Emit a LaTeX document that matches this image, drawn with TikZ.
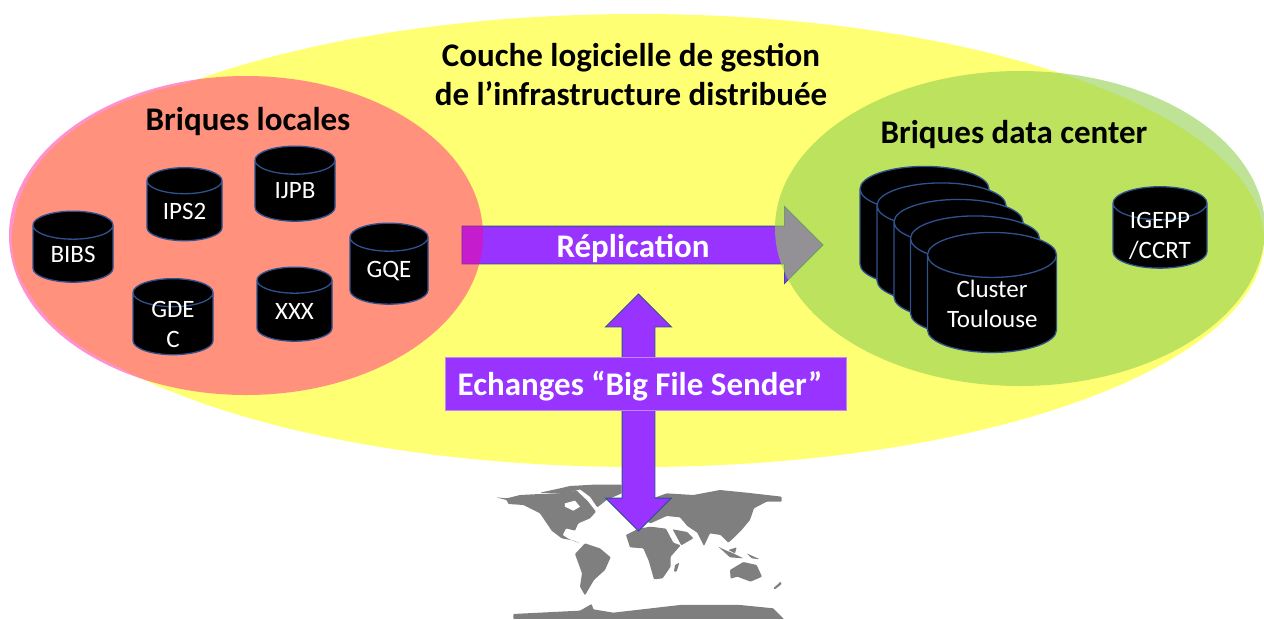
\documentclass[tikz,border=0pt]{standalone}
\usepackage{fontspec}
\setmainfont{Carlito}
\usetikzlibrary{shapes.geometric, shapes.arrows}
\definecolor{infrayellow}{HTML}{FFFF73}
\definecolor{localpink}{HTML}{FF008C}
\definecolor{dcgreen}{HTML}{92D050}
\definecolor{flowpurple}{HTML}{9933FF}
\definecolor{edgeblue}{HTML}{2F528F}
\definecolor{mapgray}{HTML}{7F7F7F}

\begin{document}
\begin{tikzpicture}[
   x=1pt, y=-1pt,
   zone/.style={
     ellipse,
     inner sep=0pt,
     draw=none,
    },
   db/.style={
     cylinder,
     shape border rotate=90,
     aspect=.5,
     cylinder uses custom fill,
     cylinder body fill=black,
     cylinder end fill=black,
     draw=edgeblue,
     line width=1.3pt,
     inner sep=0pt,
     text=white,
     align=center,
     font=\fontsize{25}{30}\selectfont,
    },
   title/.style={
     align=center,
     font=\fontsize{33}{39}\selectfont\bfseries,
    },
   flow/.style={
     fill=flowpurple,
     draw=edgeblue,
     line width=.9pt,
     inner sep=0pt,
    },
   flowtext/.style={
     text=white,
     font=\fontsize{33}{36}\selectfont\bfseries,
    },
   land/.style={
     fill=mapgray,
     draw=none,
     rounded corners=.8pt,
    },
  ]
\useasboundingbox (0,0) rectangle (1264,619);

% world map
\begin{scope}[shift={(480pt,-470pt)}, x=.3333pt, y=-.3333pt]
\clip (-480,-100) rectangle (960,447);
\fill[land] (48,82) -- (80,85) -- (120,75) -- (180,72) -- (250,70) -- (290,62) -- (322,92) -- (348,125) -- (330,145) -- (295,160) -- (285,182) -- (258,175) -- (248,195) -- (268,208) -- (300,220) -- (282,212) -- (245,205) -- (215,182) -- (180,130) -- (130,105) -- (85,102) -- (80,90) -- cycle;
\fill[white] (255,100) -- (285,92) -- (300,110) -- (280,122) -- (255,110) -- cycle;
\fill[land] (180,68) -- (240,55) -- (270,48) -- (340,44) -- (425,44) -- (425,70) -- (380,90) -- (352,112) -- (330,80) -- (300,58) -- (255,72) -- cycle;
\fill[land] (505,90) -- (560,70) -- (640,75) -- (720,60) -- (800,68) -- (905,80) -- (905,95) -- (860,95) -- (822,115) -- (810,150) -- (785,180) -- (760,205) -- (745,218) -- (722,195) -- (690,190) -- (672,228) -- (652,188) -- (622,168) -- (600,142) -- (560,138) -- (512,160) -- (492,150) -- (528,112) -- cycle;
\fill[land] (438,195) -- (475,176) -- (512,170) -- (558,176) -- (580,218) -- (602,226) -- (572,260) -- (572,290) -- (548,325) -- (522,328) -- (506,272) -- (490,235) -- (450,232) -- cycle;
\fill[land] (578,178) -- (622,186) -- (640,205) -- (604,226) -- cycle;
\fill[land] (285,252) -- (315,220) -- (360,235) -- (392,262) -- (375,300) -- (342,330) -- (315,376) -- (300,350) -- (306,310) -- cycle;
\fill[land] (750,300) -- (790,276) -- (830,285) -- (846,320) -- (812,335) -- (772,320) -- (752,326) -- cycle;
\fill[land] (585,285) -- (598,278) -- (590,305) -- (582,305) -- cycle;
\fill[land] (880,355) -- (902,335) -- (905,342) -- (885,358) -- cycle;
\fill[land] (715,230) -- (750,262) -- (790,265) -- (760,250) -- (735,240) -- cycle;
\fill[land] (745,240) -- (770,232) -- (765,250) -- cycle;
\fill[land] (800,250) -- (840,268) -- (815,265) -- cycle;
\fill[land] (100,432) -- (300,422) -- (335,402) -- (340,418) -- (400,428) -- (600,405) -- (780,405) -- (880,415) -- (912,447) -- (100,447) -- cycle;
\end{scope}

\node[zone, fill=infrayellow, minimum width=1252, minimum height=453] (infra) at (638,240.5) {};
\node[zone, fill=infrayellow, minimum width=470, minimum height=315] (localunder) at (248,235.5) {};

\node[single arrow, flow, text height=37pt, text depth=0pt, minimum width=76, minimum height=361,
  single arrow head extend=19.5, single arrow tip angle=90, single arrow head indent=0pt] (replication) at (633,245) {};

\node[zone, fill=localpink, fill opacity=.43, minimum width=474, minimum height=319] (local) at (246,235.5) {};
\node[zone, fill=dcgreen, fill opacity=.6, minimum width=490, minimum height=315] (datacenter) at (1020,228.5) {};

\node[double arrow, flow, rotate=90, text height=32pt, text depth=0pt, minimum width=65, minimum height=237,
  double arrow head extend=16.5, double arrow tip angle=90, double arrow head indent=0pt] (bigfile) at (638.5,412.5) {};
\node[fill=flowpurple, draw=flowpurple!60!white, line width=.5pt, minimum width=401, minimum height=53, inner sep=0pt] (sender) at (645.5,383.5) {};

\node[title] (infratitle) at (631,75) {Couche logicielle de gestion\\de l’infrastructure distribuée};
\node[title] (localtitle) at (248,121.5) {Briques locales};
\node[title] (dctitle) at (1014,135) {Briques data center};
\node[flowtext] (replabel) at (633,248) {Réplication};
\node[flowtext] (senderlabel) at (640,386) {Echanges “Big File Sender”};

\node[db, text width=56, minimum width=80, minimum height=71] (bibs) at (73,254) {BIBS};
\node[db, text width=52, minimum width=75, minimum height=73] (ips) at (184.5,211) {IPS2};
\node[db, text width=56, minimum width=80, minimum height=75] (ijpb) at (295,191) {IJPB};
\node[db, text width=56, minimum width=78, minimum height=81] (gqe) at (389,271) {GQE};
\node[db, text width=56, inner ysep=-6.5pt, minimum width=80, minimum height=75] (gdec) at (173,324) {GDE\\C};
\node[db, text width=52, minimum width=75, minimum height=74] (xxx) at (294.5,311) {XXX};

\node[db, text width=90, minimum width=129, minimum height=120] (clusterA) at (924.5,238) {};
\node[db, text width=90, minimum width=129, minimum height=120] (clusterB) at (941.5,254.5) {};
\node[db, text width=90, minimum width=129, minimum height=120] (clusterC) at (958.5,271) {};
\node[db, text width=90, minimum width=129, minimum height=120] (clusterD) at (975,287.5) {};
\node[db, text width=90, minimum width=129, minimum height=120] (clusterE) at (992,304) {Cluster\\Toulouse};
\node[db, text width=66, inner ysep=-8pt, minimum width=94, minimum height=78] (igepp) at (1160,236) {IGEPP\\/CCRT};
\end{tikzpicture}
\end{document}
